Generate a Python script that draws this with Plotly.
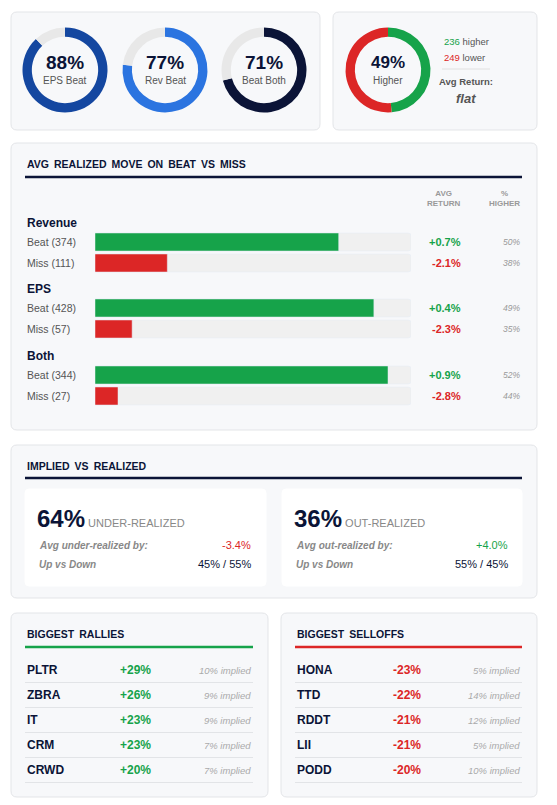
import plotly.graph_objects as go

W, H = 557, 805
OFF = 8  # page body margin
F = "Liberation Sans, Arial, sans-serif"
NAVY = "#0B1437"; GREEN = "#16A34A"; RED = "#DC2626"; GRAY = "#777777"; LGRAY = "#999999"

# ---- data ----
donut_labels = ["EPS Beat", "Rev Beat", "Beat Both"]
donut_values = [88, 77, 71]
donut_colors = ["#1447A0", "#2B74E0", "#0B1437"]
higher_count, lower_count = 236, 249
higher_pct = 49

groups = ["Revenue", "EPS", "Both"]
beat_counts = [374, 428, 344]
miss_counts = [111, 57, 27]
beat_returns = ["+0.7%", "+0.4%", "+0.9%"]
miss_returns = ["-2.1%", "-2.3%", "-2.8%"]
beat_higher = ["50%", "49%", "52%"]
miss_higher = ["38%", "35%", "44%"]

under_pct, out_pct = 64, 36
under_by, out_by = "-3.4%", "+4.0%"
under_updown, out_updown = "45% / 55%", "55% / 45%"

rally_tickers = ["PLTR", "ZBRA", "IT", "CRM", "CRWD"]
rally_moves = ["+29%", "+26%", "+23%", "+23%", "+20%"]
rally_implied = ["10% implied", "9% implied", "9% implied", "7% implied", "7% implied"]
sell_tickers = ["HONA", "TTD", "RDDT", "LII", "PODD"]
sell_moves = ["-23%", "-22%", "-21%", "-21%", "-20%"]
sell_implied = ["5% implied", "14% implied", "12% implied", "5% implied", "10% implied"]

fig = go.Figure()
shapes = []
ann = []

def card(x0, y0, x1, y1, fill="#F7F8FA", line="#E3E5E8", r=6):
    p = (f"M {x0+r},{y0} L {x1-r},{y0} Q {x1},{y0} {x1},{y0+r} L {x1},{y1-r} Q {x1},{y1} {x1-r},{y1} "
         f"L {x0+r},{y1} Q {x0},{y1} {x0},{y1-r} L {x0},{y0+r} Q {x0},{y0} {x0+r},{y0} Z")
    shapes.append(dict(type="path", xref="x", yref="y", path=p,
                       fillcolor=fill, line=dict(color=line, width=1), layer="below"))

def txt(x, y, s, size=11, color=NAVY, anchor="left", bold=False, italic=False):
    if bold: s = "<b>" + s + "</b>"
    if italic: s = "<i>" + s + "</i>"
    ann.append(dict(x=x, y=y, xref="x", yref="y", text=s, showarrow=False, xanchor=anchor,
                    yanchor="middle", font=dict(family=F, size=size, color=color)))

def hline(x0, x1, y, color, w=1):
    shapes.append(dict(type="line", xref="x", yref="y", x0=x0, x1=x1, y0=y, y1=y,
                       line=dict(color=color, width=w)))

def spaced(s):
    return s.replace(" ", "&#8201; ")

card(11, 12, 320, 130); card(333, 12, 537, 130)
card(11, 143, 537, 430); card(11, 445, 537, 598)
card(11, 613, 268, 797); card(281, 613, 537, 797)

def px(x): return (x - OFF) / W
def py(y): return 1 - (y - OFF) / H

def donut(cx, cy, r, vals, colors):
    fig.add_trace(go.Pie(values=vals, marker=dict(colors=colors), hole=0.78, sort=False,
                         direction="clockwise", rotation=0, textinfo="none", hoverinfo="skip",
                         showlegend=False,
                         domain=dict(x=[px(cx - r), px(cx + r)], y=[py(cy + r), py(cy - r)])))

centers = [65, 165, 264]
for cx, lab, v, c in zip(centers, donut_labels, donut_values, donut_colors):
    donut(cx, 70, 42.5, [v, 100 - v], [c, "#E8E8E8"])
    txt(cx, 62, f"{v}%", 19, NAVY, "center", bold=True)
    txt(cx, 80, lab, 10, "#555555", "center")

donut(388, 70, 42.5, [higher_count, lower_count], [GREEN, RED])
txt(388, 62, f"{higher_pct}%", 17, NAVY, "center", bold=True)
txt(388, 80, "Higher", 10, "#555555", "center")
txt(442, 41, f"<span style='color:{GREEN}'>{higher_count}</span> higher", 9.5, "#555555")
txt(442, 57, f"<span style='color:{RED}'>{lower_count}</span> lower", 9.5, "#555555")
hline(442, 490, 69, "#E0E0E0")
txt(466, 81, "Avg Return:", 9.5, "#555555", "center", bold=True)
txt(466, 98, "flat", 13, "#555555", "center", bold=True, italic=True)

# ---- beat vs miss ----
txt(25, 164, "<b>" + spaced("AVG REALIZED MOVE ON BEAT VS MISS") + "</b>", 10.5, NAVY)
hline(25, 522, 177, NAVY, 2.5)
txt(463, 198, "AVG<br>RETURN", 8, LGRAY, "right", bold=True)
txt(522, 198, "%<br>HIGHER", 8, LGRAY, "right", bold=True)

group_y = [223, 289, 356]
bx, by, bc, ty = [], [], [], []
for i, g in enumerate(groups):
    gy = group_y[i]
    txt(25, gy, g, 12, NAVY, bold=True)
    tot = beat_counts[i] + miss_counts[i]
    for j, (cnt, ret, hi, col) in enumerate([(beat_counts[i], beat_returns[i], beat_higher[i], GREEN),
                                              (miss_counts[i], miss_returns[i], miss_higher[i], RED)]):
        ry = gy + 19 + j * 21
        txt(25, ry, f"{'Beat' if j == 0 else 'Miss'} ({cnt})", 10.5, "#555555")
        txt(463, ry, ret, 11, col, "right", bold=True)
        txt(522, ry, hi, 8.5, LGRAY, "right", italic=True)
        bx.append(cnt / tot); by.append(ry); bc.append(col); ty.append(ry)

fig.add_trace(go.Bar(x=[1] * len(ty), y=ty, orientation="h", width=18, marker=dict(color="#F0F0F0"),
                     xaxis="x2", yaxis="y", hoverinfo="skip", showlegend=False))
fig.add_trace(go.Bar(x=bx, y=by, orientation="h", width=18, marker=dict(color=bc),
                     xaxis="x2", yaxis="y", hoverinfo="skip", showlegend=False))

# ---- implied vs realized ----
txt(25, 466, "<b>" + spaced("IMPLIED VS REALIZED") + "</b>", 10.5, NAVY)
hline(25, 522, 478, NAVY, 2.5)
card(25, 489, 266, 586, fill="white", line="white", r=4)
card(282, 489, 522, 586, fill="white", line="white", r=4)
for x0, xr, p, lab, by_lab, by_val, by_col, ud in [
        (37, 253, under_pct, "UNDER-REALIZED", "Avg under-realized by:", under_by, RED, under_updown),
        (294, 510, out_pct, "OUT-REALIZED", "Avg out-realized by:", out_by, GREEN, out_updown)]:
    txt(x0 - 2, 518, f"<b><span style='font-size:24px;color:{NAVY}'>{p}%</span></b> "
        f"<span style='font-size:11px;color:#888888'>{lab}</span>", 11, NAVY)
    txt(x0, 545, by_lab, 10, "#888888", italic=True, bold=True)
    txt(xr, 545, by_val, 11, by_col, "right")
    txt(x0, 564, "Up vs Down", 10, "#888888", italic=True, bold=True)
    txt(xr, 564, ud, 11, NAVY, "right")

# ---- rallies / selloffs ----
for x0, x1, title, col, tick, mv, imp in [
        (25, 253, "BIGGEST RALLIES", GREEN, rally_tickers, rally_moves, rally_implied),
        (295, 522, "BIGGEST SELLOFFS", RED, sell_tickers, sell_moves, sell_implied)]:
    txt(x0, 634, "<b>" + spaced(title) + "</b>", 10.5, NAVY)
    hline(x0, x1, 647, col, 2.5)
    for k in range(len(tick)):
        ry = 670 + 25 * k
        txt(x0, ry, tick[k], 12, NAVY, bold=True)
        txt(x0 + 128, ry, mv[k], 12, col, "right", bold=True)
        txt(x1, ry, imp[k], 9.5, "#AAAAAA", "right", italic=True)
        hline(x0, x1, ry + 12.5, "#E2E4E7")

fig.update_layout(
    width=W, height=H, margin=dict(l=0, r=0, t=0, b=0),
    paper_bgcolor="white", plot_bgcolor="rgba(0,0,0,0)",
    xaxis=dict(range=[OFF, W + OFF], visible=False, fixedrange=True),
    yaxis=dict(range=[H + OFF, OFF], visible=False, fixedrange=True),
    xaxis2=dict(domain=[px(95), px(411)], range=[0, 1], visible=False, anchor="y"),
    barmode="overlay", barcornerradius=3,
    shapes=shapes, annotations=ann,
)
fig.write_html("out.html")
